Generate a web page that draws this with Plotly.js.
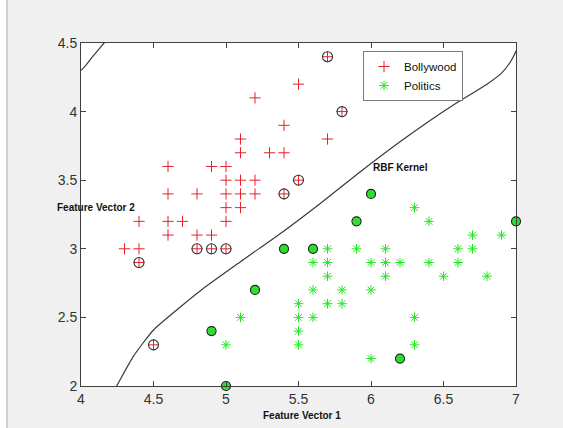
<!DOCTYPE html>
<html>
<head>
<meta charset="utf-8">
<script src="https://cdn.plot.ly/plotly-3.0.1.min.js"></script>
<style>html,body{margin:0;padding:0;background:#f0f0f0;}#chart{width:563px;height:428px;}</style>
</head>
<body>
<div id="chart"></div>
<script>
// Class 1: Bollywood (red +)
const bollyX = [4.3,4.4,4.4,4.4,4.5,4.6,4.6,4.6,4.6,4.7,4.8,4.8,4.8,4.9,4.9,4.9,5.0,5.0,5.0,5.0,5.0,5.0,5.1,5.1,5.1,5.1,5.1,5.2,5.2,5.2,5.3,5.4,5.4,5.4,5.5,5.5,5.7,5.7,5.8];
const bollyY = [3.0,3.0,3.2,2.9,2.3,3.1,3.2,3.4,3.6,3.2,3.0,3.1,3.4,3.0,3.1,3.6,3.0,3.2,3.3,3.4,3.5,3.6,3.3,3.4,3.5,3.7,3.8,3.4,3.5,4.1,3.7,3.4,3.7,3.9,3.5,4.2,3.8,4.4,4.0];
// Class 2: Politics (green *)
const polX = [4.9,5.0,5.0,5.1,5.2,5.4,5.5,5.5,5.5,5.5,5.6,5.6,5.6,5.6,5.7,5.7,5.7,5.7,5.8,5.8,5.9,5.9,6.0,6.0,6.0,6.0,6.1,6.1,6.1,6.2,6.2,6.3,6.3,6.3,6.4,6.4,6.5,6.6,6.6,6.7,6.7,6.8,6.9,7.0];
const polY = [2.4,2.0,2.3,2.5,2.7,3.0,2.3,2.4,2.5,2.6,2.5,2.7,2.9,3.0,2.6,2.8,2.9,3.0,2.6,2.7,3.0,3.2,2.2,2.7,2.9,3.4,2.8,2.9,3.0,2.2,2.9,2.3,2.5,3.3,2.9,3.2,2.8,2.9,3.0,3.0,3.1,2.8,3.1,3.2];
// Support vectors (class 1 = Bollywood, 2 = Politics)
const svX = [4.4,4.5,4.8,4.9,5.0,5.4,5.5,5.7,5.8, 4.9,5.0,5.2,5.4,5.6,5.9,6.0,6.2,7.0];
const svY = [2.9,2.3,3.0,3.0,3.0,3.4,3.5,4.4,4.0, 2.4,2.0,2.7,3.0,3.0,3.2,3.4,2.2,3.2];
const svClass = [1,1,1,1,1,1,1,1,1, 2,2,2,2,2,2,2,2,2];
// Decision boundary (RBF kernel), two pieces separated by null
const boundaryX = [3.95,4.0,4.08,4.159,4.22, null, 4.2,4.246,4.36,4.50,4.66,4.83,5.10,5.40,5.65,5.90,6.20,6.40,6.60,6.80,6.90,6.96,7.0,7.04];
const boundaryY = [4.36,4.303,4.40,4.5,4.58, null, 1.92,2.0,2.214,2.408,2.554,2.70,2.906,3.13,3.33,3.54,3.78,3.93,4.07,4.20,4.28,4.36,4.44,4.56];

const RED = '#e8202a', GREEN = '#22e622';
const pick = (arr, c) => arr.filter((_, i) => svClass[i] === c);

const traces = [
  {x: boundaryX, y: boundaryY, mode: 'lines', connectgaps: false, showlegend: false, hoverinfo: 'skip',
   line: {color: '#3a3a3a', width: 1.2, shape: 'spline', smoothing: 0.6}},
  {x: bollyX, y: bollyY, mode: 'markers', name: 'Bollywood', cliponaxis: false,
   marker: {symbol: 'cross-thin-open', size: 8, color: RED, line: {color: RED, width: 1}}},
  {x: polX, y: polY, mode: 'markers', name: 'Politics', cliponaxis: false,
   marker: {symbol: 'asterisk-open', size: 8, color: GREEN, line: {color: GREEN, width: 1}}},
  {x: pick(svX, 2), y: pick(svY, 2), mode: 'markers', showlegend: false, cliponaxis: false,
   marker: {symbol: 'circle', size: 9, color: 'rgba(40,210,40,0.85)', line: {color: '#1a1a1a', width: 1.2}}},
  {x: pick(svX, 2), y: pick(svY, 2), mode: 'markers', showlegend: false, cliponaxis: false,
   marker: {symbol: 'asterisk-open', size: 7, color: GREEN, line: {color: GREEN, width: 1}}},
  {x: pick(svX, 1), y: pick(svY, 1), mode: 'markers', showlegend: false, cliponaxis: false,
   marker: {symbol: 'circle-open', size: 10, color: '#333', line: {color: '#333', width: 1.1}}}
];

const L = 81, T = 43, W = 435, H = 343;
const px = v => (v - L) / W;
const py = v => (T + H - v) / H;

const axisCommon = {
  showgrid: false, zeroline: false, showline: true, mirror: 'ticks',
  linecolor: '#404040', linewidth: 1, ticks: 'inside', ticklen: 5, tickcolor: '#404040',
  tickfont: {family: 'Liberation Sans, Arial, sans-serif', size: 14, color: '#333'},
  dtick: 0.5, fixedrange: true
};

const layout = {
  width: 563, height: 428,
  margin: {l: L, r: 563 - L - W, t: T, b: 428 - T - H, pad: 0},
  paper_bgcolor: '#f0f0f0', plot_bgcolor: '#ffffff',
  xaxis: Object.assign({}, axisCommon, {range: [4, 7], tick0: 4}),
  yaxis: Object.assign({}, axisCommon, {range: [2, 4.5], tick0: 2}),
  showlegend: true,
  legend: {x: px(363), y: py(51), xanchor: 'left', yanchor: 'top', bgcolor: '#ffffff',
           bordercolor: '#7a7a7a', borderwidth: 1, itemwidth: 30, tracegroupgap: 0,
           font: {family: 'Liberation Sans, Arial, sans-serif', size: 11.5, color: '#111'}},
  shapes: [
    {type: 'rect', xref: 'paper', yref: 'paper', x0: px(0), x1: px(7), y0: py(428), y1: py(0),
     fillcolor: '#ffffff', line: {width: 0}, layer: 'below'},
    {type: 'line', xref: 'paper', yref: 'paper', x0: px(7), x1: px(7), y0: py(428), y1: py(0),
     line: {color: '#a8a8a8', width: 1}}
  ],
  annotations: [
    {text: '<b>Feature Vector 1</b>', xref: 'paper', yref: 'paper', x: px(302), y: py(415),
     xanchor: 'center', yanchor: 'middle', showarrow: false,
     font: {family: 'Liberation Sans, Arial, sans-serif', size: 10, color: '#111'}},
    {text: '<b>Feature Vector 2</b>', xref: 'paper', yref: 'paper', x: px(55), y: py(207),
     xanchor: 'left', yanchor: 'middle', showarrow: false,
     font: {family: 'Liberation Sans, Arial, sans-serif', size: 10, color: '#111'}},
    {text: '<b>RBF Kernel</b>', xref: 'paper', yref: 'paper', x: px(371), y: py(167),
     xanchor: 'left', yanchor: 'middle', showarrow: false,
     font: {family: 'Liberation Sans, Arial, sans-serif', size: 10, color: '#111'}}
  ]
};

Plotly.newPlot('chart', traces, layout, {displayModeBar: false, staticPlot: true});
</script>
</body>
</html>
